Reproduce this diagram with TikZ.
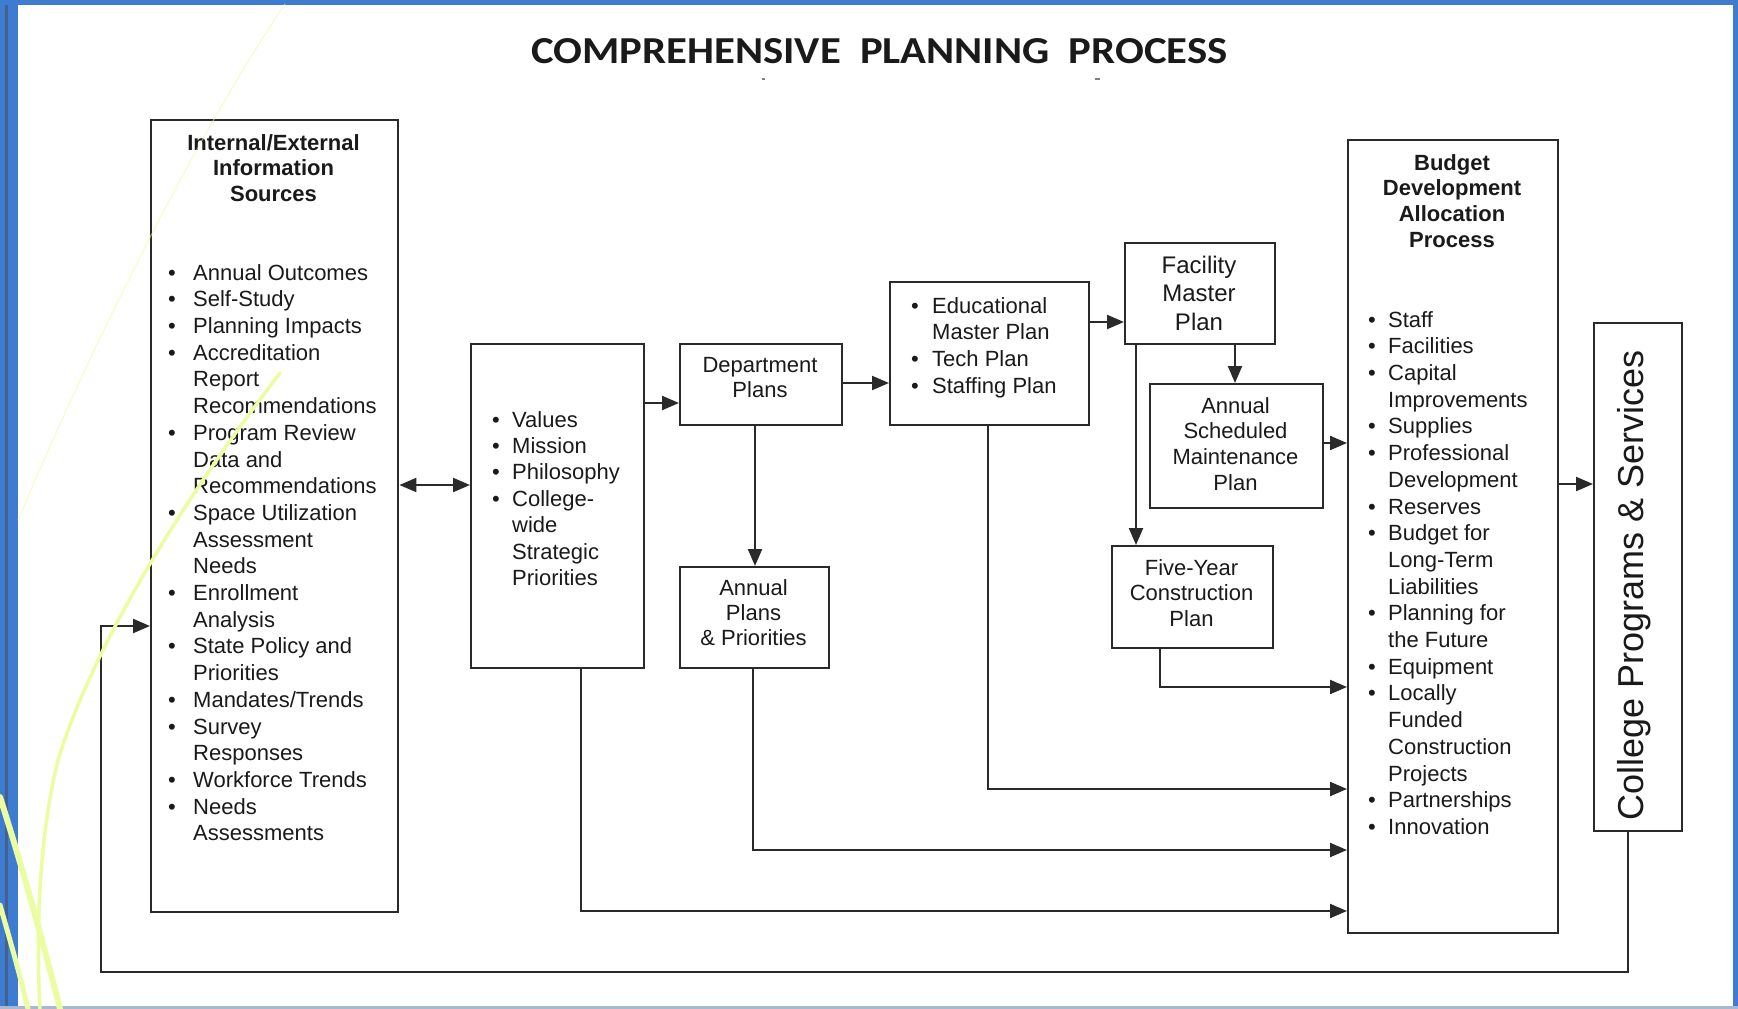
\documentclass[tikz,border=0pt]{standalone}
\usepackage{fontspec}
\setmainfont{Liberation Sans}
\newfontfamily\titlefont{Carlito}
\usetikzlibrary{arrows.meta}
\definecolor{ln}{HTML}{2A2A2A}
\definecolor{txt}{HTML}{1A1A1A}
\definecolor{limeline}{HTML}{ECFCA0}
\definecolor{frameblue}{HTML}{3D7CD0}
\definecolor{framedark}{HTML}{44608C}
\definecolor{framelow}{HTML}{A8B8D0}
\newcommand{\bitem}[2]{\makebox[#1pt][l]{\textbullet}#2}
\newcommand{\citem}[2]{\hspace*{#1pt}#2}
\begin{document}
\begin{tikzpicture}[x=1pt,y=-1pt,
  box/.style={draw=ln, line width=2.4pt, rectangle, inner sep=0pt, anchor=north west, fill=white},
  lbl/.style={inner sep=0pt, text=txt, font=\fontsize{22}{25.5}\selectfont},
  lst/.style={inner sep=0pt, text=txt, align=left, anchor=north west, font=\fontsize{22}{26.7}\selectfont},
  arr/.style={draw=ln, line width=2.2pt, -{Triangle[length=17pt,width=14pt]}},
  biarr/.style={draw=ln, line width=2.2pt, {Triangle[length=17pt,width=14pt]}-{Triangle[length=17pt,width=14pt]}},
  deco/.style={draw=limeline, line cap=round}]
\useasboundingbox (0,0) rectangle (1738,1009);
% background and frame
\fill[white] (0,0) rectangle (1738,1009);
\fill[frameblue] (0,0) rectangle (1738,5);
\fill[frameblue] (0,0) rectangle (18,1009);
\fill[framedark] (5,5) rectangle (8,1009);
\fill[frameblue] (1733,0) rectangle (1738,1009);
\fill[framelow] (0,1006) rectangle (1738,1009);

% title
\node[anchor=base west, inner sep=0pt, text=txt] (title) at (531,63)
  {\resizebox{696pt}{25pt}{\titlefont\bfseries COMPREHENSIVE\hspace{0.45em}PLANNING\hspace{0.45em}PROCESS}};
\coordinate (m1) at (762,79);
\coordinate (m2) at (1095,79);
\draw[gray, line width=1.2pt] (m1) -- ++(3,0);
\draw[gray, line width=1.2pt] (m2) -- ++(5,0);

% boxes
\node[box, minimum width=247pt, minimum height=792pt] (info) at (150,119) {};
\node[box, minimum width=173pt, minimum height=324pt] (values) at (470,343) {};
\node[box, minimum width=162pt, minimum height=81pt] (dept) at (679,343) {};
\node[box, minimum width=199pt, minimum height=143pt] (edu) at (889,281) {};
\node[box, minimum width=149pt, minimum height=101pt] (annual) at (679,566) {};
\node[box, minimum width=150pt, minimum height=101pt] (facility) at (1124,242) {};
\node[box, minimum width=173pt, minimum height=124pt] (maint) at (1149,383) {};
\node[box, minimum width=161pt, minimum height=102pt] (five) at (1111,545) {};
\node[box, minimum width=210pt, minimum height=793pt] (budget) at (1347,139) {};
\node[box, minimum width=88pt, minimum height=508pt] (college) at (1593,322) {};

% texts
\node[lbl, anchor=north, align=center, font=\fontsize{22}{25.5}\selectfont\bfseries] (infoT) at (273.5,134)
  {Internal/External\\Information\\Sources};
\node[lst] (infoL) at (168,264) {%
\bitem{25}{Annual Outcomes}\\
\bitem{25}{Self-Study}\\
\bitem{25}{Planning Impacts}\\
\bitem{25}{Accreditation}\\
\citem{25}{Report}\\
\citem{25}{Recommendations}\\
\bitem{25}{Program Review}\\
\citem{25}{Data and}\\
\citem{25}{Recommendations}\\
\bitem{25}{Space Utilization}\\
\citem{25}{Assessment}\\
\citem{25}{Needs}\\
\bitem{25}{Enrollment}\\
\citem{25}{Analysis}\\
\bitem{25}{State Policy and}\\
\citem{25}{Priorities}\\
\bitem{25}{Mandates/Trends}\\
\bitem{25}{Survey}\\
\citem{25}{Responses}\\
\bitem{25}{Workforce Trends}\\
\bitem{25}{Needs}\\
\citem{25}{Assessments}};
\node[lst, font=\fontsize{22}{26.4}\selectfont] (valL) at (492,411) {%
\bitem{20}{Values}\\
\bitem{20}{Mission}\\
\bitem{20}{Philosophy}\\
\bitem{20}{College-}\\
\citem{20}{wide}\\
\citem{20}{Strategic}\\
\citem{20}{Priorities}};
\node[lbl, anchor=north, align=center, font=\fontsize{22}{25}\selectfont] (deptT) at (760,357) {Department\\Plans};
\node[lst] (eduL) at (911,297) {%
\bitem{21}{Educational}\\
\citem{21}{Master Plan}\\
\bitem{21}{Tech Plan}\\
\bitem{21}{Staffing Plan}};
\node[lbl, anchor=north, align=center, font=\fontsize{22}{25}\selectfont] (annT) at (753.5,579) {Annual\\Plans\\\& Priorities};
\node[lbl, anchor=north, align=center, font=\fontsize{24}{28.5}\selectfont] (facT) at (1199,255.5) {Facility\\Master\\Plan};
\node[lbl, anchor=north, align=center, font=\fontsize{22}{25.7}\selectfont] (maintT) at (1235.5,397) {Annual\\Scheduled\\Maintenance\\Plan};
\node[lbl, anchor=north, align=center, font=\fontsize{22}{25.5}\selectfont] (fiveT) at (1191.5,559) {Five-Year\\Construction\\Plan};
\node[lbl, anchor=north, align=center, font=\fontsize{22}{25.7}\selectfont\bfseries] (budT) at (1452,154) {Budget\\Development\\Allocation\\Process};
\node[lst] (budL) at (1368,311) {%
\bitem{20}{Staff}\\
\bitem{20}{Facilities}\\
\bitem{20}{Capital}\\
\citem{20}{Improvements}\\
\bitem{20}{Supplies}\\
\bitem{20}{Professional}\\
\citem{20}{Development}\\
\bitem{20}{Reserves}\\
\bitem{20}{Budget for}\\
\citem{20}{Long-Term}\\
\citem{20}{Liabilities}\\
\bitem{20}{Planning for}\\
\citem{20}{the Future}\\
\bitem{20}{Equipment}\\
\bitem{20}{Locally}\\
\citem{20}{Funded}\\
\citem{20}{Construction}\\
\citem{20}{Projects}\\
\bitem{20}{Partnerships}\\
\bitem{20}{Innovation}};
\node[lbl, rotate=90, anchor=base, font=\fontsize{36}{40}\selectfont] (colT) at (1643,585) {College Programs \& Services};

% connectors
\draw[biarr] (info.east |- 0,485) -- (values.west |- 0,485);
\draw[arr] (values.east |- 0,403) -- (dept.west |- 0,403);
\draw[arr] (dept.east |- 0,383) -- (edu.west |- 0,383);
\draw[arr] (dept.south -| 755,0) -- (annual.north -| 755,0);
\draw[arr] (edu.east |- 0,322) -- (facility.west |- 0,322);
\draw[arr] (facility.south -| 1235,0) -- (maint.north -| 1235,0);
\draw[arr] (facility.south -| 1136,0) -- (five.north -| 1136,0);
\draw[arr] (maint.east |- 0,443) -- (budget.west |- 0,443);
\draw[arr] (five.south -| 1160,0) |- (budget.west |- 0,687);
\draw[arr] (edu.south -| 988,0) |- (budget.west |- 0,789);
\draw[arr] (annual.south -| 753,0) |- (budget.west |- 0,850);
\draw[arr] (values.south -| 581,0) |- (budget.west |- 0,911);
\draw[arr] (budget.east |- 0,484) -- (college.west |- 0,484);
\coordinate (fb1) at (1628,972);
\coordinate (fb2) at (101,972);
\coordinate (fb3) at (101,626);
\draw[arr] (college.south -| fb1) -- (fb1) -- (fb2) -- (fb3) -- (info.west |- fb3);

% decorative lines
\draw[deco, line width=1pt, opacity=0.6] (285,4) .. controls (220,100) and (120,280) .. (18,520);
\draw[deco, line width=3.5pt] (280,373) .. controls (190,490) and (95,640) .. (58,760) .. controls (36,850) and (37,950) .. (40,1009);
\draw[deco, line width=6pt] (0,797) .. controls (20,860) and (40,930) .. (60,1009);
\draw[deco, line width=5pt] (0,905) .. controls (10,940) and (20,975) .. (28,1009);
\end{tikzpicture}
\end{document}
